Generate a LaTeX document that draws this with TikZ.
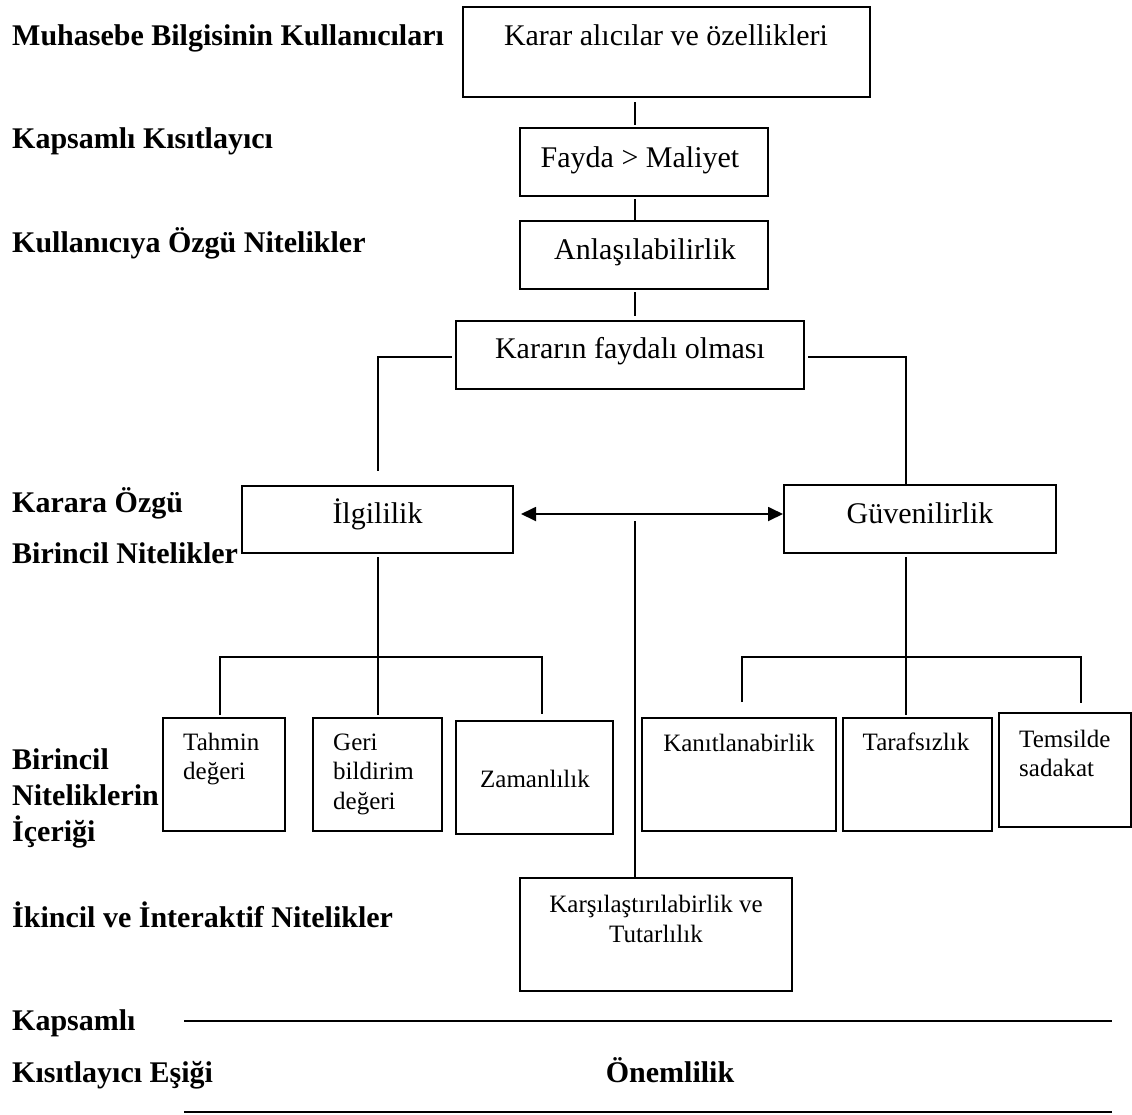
\documentclass[tikz,border=0pt]{standalone}
\usepackage{fontspec}
\setmainfont{Liberation Serif}
\usetikzlibrary{arrows.meta,fit}
\begin{document}
\begin{tikzpicture}[x=1pt,y=-1pt,
  box/.style={draw, line width=1.8pt, inner sep=0pt},
  lab/.style={font=\fontsize{30}{34}\selectfont\bfseries, anchor=base west, inner sep=0pt},
  txt/.style={font=\fontsize{30}{34}\selectfont, anchor=base, inner sep=0pt},
  small/.style={font=\fontsize{25}{29.5}\selectfont, anchor=base west, inner sep=0pt},
  cmp/.style={font=\fontsize{25}{30}\selectfont, anchor=base, inner sep=0pt},
  link/.style={line width=1.8pt},
  headtip/.tip={Triangle[length=15pt,width=14pt]}
]
\useasboundingbox (0,0) rectangle (1132,1114);

% left-hand row labels
\node[lab] (l1) at (12,45) {Muhasebe Bilgisinin Kullanıcıları};
\node[lab] (l2) at (12,148) {Kapsamlı Kısıtlayıcı};
\node[lab] (l3) at (12,252) {Kullanıcıya Özgü Nitelikler};
\node[lab, font=\fontsize{30}{51}\selectfont\bfseries] (l4) at (12,512)
  {\begin{tabular}[t]{@{}l@{}}Karara Özgü\\Birincil Nitelikler\end{tabular}};
\node[lab, font=\fontsize{30}{36}\selectfont\bfseries] (l5) at (12,769)
  {\begin{tabular}[t]{@{}l@{}}Birincil\\Niteliklerin\\İçeriği\end{tabular}};
\node[lab] (l6) at (12,927) {İkincil ve İnteraktif Nitelikler};
\node[lab, font=\fontsize{30}{52}\selectfont\bfseries] (l7) at (12,1030)
  {\begin{tabular}[t]{@{}l@{}}Kapsamlı\\Kısıtlayıcı Eşiği\end{tabular}};
\node[lab, anchor=base] (l8) at (670,1082) {Önemlilik};

% boxes
\node[box, fit={(463,7) (870,97)}] (b1) {};
\node[box, fit={(520,128) (768,196)}] (b2) {};
\node[box, fit={(520,221) (768,289)}] (b3) {};
\node[box, fit={(456,321) (804,389)}] (b4) {};
\node[box, fit={(242,486) (513,553)}] (ilg) {};
\node[box, fit={(784,485) (1056,553)}] (guv) {};
\node[box, fit={(163,718) (285,831)}] (tah) {};
\node[box, fit={(313,718) (442,831)}] (geri) {};
\node[box, fit={(456,721) (613,834)}] (zam) {};
\node[box, fit={(642,718) (836,831)}] (kan) {};
\node[box, fit={(843,718) (992,831)}] (tar) {};
\node[box, fit={(999,713) (1131,827)}] (tem) {};
\node[box, fit={(520,878) (792,991)}] (kar) {};

% box texts
\node[txt] (t1) at (666,45) {Karar alıcılar ve özellikleri};
\node[txt] (t2) at (640,167) {Fayda > Maliyet};
\node[txt] (t3) at (645,259) {Anlaşılabilirlik};
\node[txt] (t4) at (630,358) {Kararın faydalı olması};
\node[txt] (t5) at (377.5,523) {İlgililik};
\node[txt] (t6) at (920,523) {Güvenilirlik};
\node[small] (t7) at (183,750) {\begin{tabular}[t]{@{}l@{}}Tahmin\\değeri\end{tabular}};
\node[small] (t8) at (333,750) {\begin{tabular}[t]{@{}l@{}}Geri\\bildirim\\değeri\end{tabular}};
\node[small, anchor=base] (t9) at (535,787) {Zamanlılık};
\node[small, anchor=base] (t10) at (739,751) {Kanıtlanabirlik};
\node[small, anchor=base] (t11) at (916,750) {Tarafsızlık};
\node[small] (t12) at (1019,747) {\begin{tabular}[t]{@{}l@{}}Temsilde\\sadakat\end{tabular}};
\node[cmp] (t13) at (656,912) {\begin{tabular}[t]{@{}c@{}}Karşılaştırılabirlik ve\\Tutarlılık\end{tabular}};

% spine links between the top boxes
\coordinate (s1a) at (635,102); \coordinate (s1b) at (635,125);
\coordinate (s2a) at (635,199); \coordinate (s2b) at (635,221);
\coordinate (s3a) at (635,292); \coordinate (s3b) at (635,316);
\draw[link] (s1a) -- (s1b);
\draw[link] (s2a) -- (s2b);
\draw[link] (s3a) -- (s3b);

% branches from the decision-usefulness box
\coordinate (bl0) at (452,357); \coordinate (bl1) at (378,357); \coordinate (bl2) at (378,471);
\coordinate (br0) at (808,357); \coordinate (br1) at (906,357);
\draw[link] (bl0) -- (bl1) -- (bl2);
\draw[link] (br0) -- (br1) -- (guv.north -| br1);

% two-way arrow between the primary qualities
\coordinate (arL) at (521,514); \coordinate (arR) at (783,514);
\draw[link, {headtip}-{headtip}] (arL) -- (arR);

% central line down to the secondary qualities
\coordinate (c0) at (635,521);
\draw[link] (c0) -- (kar.north -| c0);

% relevance sub-tree
\coordinate (ia) at (378,557); \coordinate (ib) at (378,715);
\coordinate (ih1) at (220,657); \coordinate (ih2) at (542,657);
\coordinate (it1) at (220,715); \coordinate (it2) at (542,714);
\draw[link] (ia) -- (ib);
\draw[link] (it1) -- (ih1) -- (ih2) -- (it2);

% reliability sub-tree
\coordinate (ga) at (906,557); \coordinate (gb) at (906,715);
\coordinate (gh1) at (742,657); \coordinate (gh2) at (1081,657);
\coordinate (gt1) at (742,702); \coordinate (gt2) at (1081,703);
\draw[link] (ga) -- (gb);
\draw[link] (gt1) -- (gh1) -- (gh2) -- (gt2);

% threshold rules
\coordinate (r1a) at (184,1021); \coordinate (r1b) at (1112,1021);
\coordinate (r2a) at (184,1112); \coordinate (r2b) at (1112,1112);
\draw[link] (r1a) -- (r1b);
\draw[link] (r2a) -- (r2b);
\end{tikzpicture}
\end{document}
